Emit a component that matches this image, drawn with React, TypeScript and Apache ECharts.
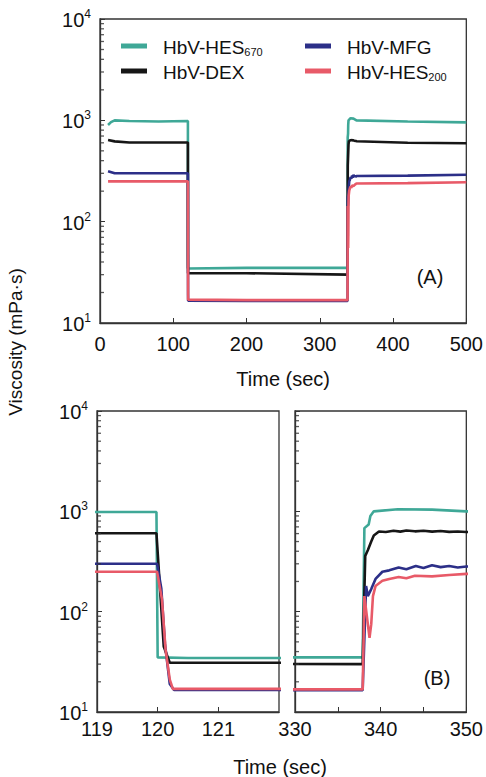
import React, { useEffect, useRef } from "react";
import * as echarts from "echarts";

// [time (sec), viscosity (mPa·s)]
const HES670 = [
  [11, 900], [15, 960], [20, 1000], [40, 985], [80, 975], [119.98, 985],
  [120.0, 35], [120.5, 34.5], [200, 35], [337.9, 35],
  [338.1, 680], [338.6, 740], [338.8, 900], [339.2, 1000], [342, 1050],
  [346, 1040], [350, 1000], [420, 975], [500, 955],
];
const DEX = [
  [11, 640], [20, 620], [40, 605], [119.98, 605],
  [120.1, 45], [120.2, 31], [200, 31], [337.9, 30],
  [338.2, 360], [338.5, 410], [338.9, 500], [339.2, 575], [339.8, 630],
  [340.6, 622], [341.5, 640], [342.3, 628], [343, 645], [344, 632],
  [345, 640], [346, 628], [347, 636], [348, 624], [349, 630], [350, 622],
  [420, 600], [500, 595],
];
const MFG = [
  [11, 315], [20, 300], [119.99, 300],
  [120.06, 170], [120.12, 48], [120.2, 19], [120.27, 16.6], [200, 16.5], [337.9, 16.5],
  [338.3, 180], [338.5, 143], [338.9, 168], [339.4, 212], [340.2, 250],
  [341, 258], [342.1, 275], [343, 265], [344.1, 285], [345, 272],
  [346, 290], [347, 278], [348, 285], [349, 276], [350, 282],
  [420, 285], [500, 290],
];
const HES200 = [
  [11, 250], [119.99, 250],
  [120.07, 134], [120.13, 42], [120.2, 21], [120.25, 17], [200, 16.8], [337.9, 16.8],
  [338.1, 143], [338.7, 55], [338.9, 75], [339.1, 143], [339.4, 180],
  [340.2, 203], [341, 212], [342.1, 222], [343, 215], [344, 228],
  [346, 225], [348, 232], [350, 238], [420, 240], [500, 245],
];

const SERIES_NAMES = ["HbV-HES670", "HbV-DEX", "HbV-MFG", "HbV-HES200"];
const SERIES_DATA = [HES670, DEX, MFG, HES200];
const SERIES_COLORS = ["#3fa897", "#161616", "#2c2f88", "#e85a68"];

const X_RANGES = [
  [0, 500, 100],
  [119, 122, 1],
  [330, 350, 5],
];
const Y_MIN = 10;
const Y_MAX = 10000;
const MINOR_TICKS = [
  20, 30, 40, 50, 60, 70, 80, 90,
  200, 300, 400, 500, 600, 700, 800, 900,
  2000, 3000, 4000, 5000, 6000, 7000, 8000, 9000,
];

const FONT = "'Liberation Sans', Arial, sans-serif";
const TXT = "#111";

export default function App() {
  const ref = useRef<HTMLDivElement>(null);
  useEffect(() => {
    const chart = echarts.init(ref.current!, null, { renderer: "svg" });
    const grids = [
      { left: 100, top: 19, width: 368, height: 304 },
      { left: 97, top: 411, width: 182, height: 301 },
      { left: 295, top: 411, width: 173, height: 301 },
    ].map((g) => ({
      ...g,
      show: true,
      borderColor: "#333",
      borderWidth: 1.3,
      backgroundColor: "transparent",
    }));

    const xAxis = X_RANGES.map(([min, max, interval], i) => ({
      type: "value",
      gridIndex: i,
      min,
      max,
      interval,
      axisLine: { show: true, lineStyle: { color: "#333", width: 1.3 } },
      axisTick: { show: true, inside: true, length: 5, lineStyle: { color: "#333" } },
      splitLine: { show: false },
      axisLabel: {
        color: TXT,
        fontSize: 20,
        fontFamily: FONT,
        margin: i === 0 ? 11 : 7,
        showMaxLabel: i !== 1,
        formatter: (v: number) => {
          if (i === 1 && v === 122) return "";
          if (i === 2 && v % 10 !== 0) return "";
          return String(v);
        },
      },
      name: i === 0 ? "Time (sec)" : "",
      nameLocation: "middle",
      nameGap: 46,
      nameTextStyle: { color: TXT, fontSize: 20, fontFamily: FONT },
    }));

    const yAxis = [0, 1, 2].map((i) => ({
      type: "log",
      logBase: 10,
      gridIndex: i,
      min: Y_MIN,
      max: Y_MAX,
      axisLine: { show: true, lineStyle: { color: "#333", width: 1.3 } },
      axisTick: { show: true, inside: true, length: 5, lineStyle: { color: "#333" } },
      splitLine: { show: false },
      axisLabel: {
        show: i !== 2,
        margin: 9,
        fontFamily: FONT,
        color: TXT,
        formatter: (v: number) => `{b|10}{s|${Math.round(Math.log10(v))}}`,
        rich: {
          b: { fontSize: 20, fontFamily: FONT, color: TXT, lineHeight: 22, verticalAlign: "bottom" },
          s: { fontSize: 12, fontFamily: FONT, color: TXT, lineHeight: 22, verticalAlign: "top", padding: [0, 0, 8, 0] },
        },
      },
    }));

    const series: any[] = [];
    for (let g = 0; g < 3; g++) {
      const xmin = X_RANGES[g][0];
      series.push({
        type: "scatter",
        name: "minor" + g,
        xAxisIndex: g,
        yAxisIndex: g,
        silent: true,
        clip: false,
        z: 10,
        symbol: "rect",
        symbolSize: [4, 1.3],
        symbolOffset: [2, 0],
        itemStyle: { color: "#333" },
        data: MINOR_TICKS.map((v) => [xmin, v]),
      });
      SERIES_NAMES.forEach((name, k) => {
        series.push({
          type: "line",
          name,
          xAxisIndex: g,
          yAxisIndex: g,
          data: SERIES_DATA[k],
          showSymbol: false,
          symbol: "none",
          clip: true,
          color: SERIES_COLORS[k],
          lineStyle: { width: 2.6, color: SERIES_COLORS[k] },
          z: 2 + k,
        });
      });
    }

    const legendText = {
      fontSize: 19,
      fontFamily: FONT,
      color: TXT,
      padding: [0, 0, 0, 11],
      rich: {
        n: { fontSize: 19, fontFamily: FONT, color: TXT, lineHeight: 22, verticalAlign: "bottom" },
        s: { fontSize: 11, fontFamily: FONT, color: TXT, lineHeight: 22, verticalAlign: "bottom", padding: [8, 0, 0, 0] },
      },
    };
    const legendFormatter = (name: string) => {
      const m = name.match(/^(HbV-HES)(\d+)$/);
      if (m) return `{n|${m[1]}}{s|${m[2]}}`;
      return `{n|${name}}`;
    };
    const legendCommon = {
      orient: "vertical",
      icon: "rect",
      itemWidth: 26,
      itemHeight: 5,
      itemGap: 6,
      selectedMode: false,
      formatter: legendFormatter,
      textStyle: legendText,
    };

    chart.setOption({
      animation: false,
      backgroundColor: "#fff",
      grid: grids,
      xAxis,
      yAxis,
      series,
      legend: [
        { ...legendCommon, left: 116, top: 33, data: ["HbV-HES670", "HbV-DEX"] },
        { ...legendCommon, left: 300, top: 33, data: ["HbV-MFG", "HbV-HES200"] },
      ],
      graphic: [
        {
          type: "text",
          x: 15,
          y: 342,
          rotation: Math.PI / 2,
          style: { text: "Viscosity (mPa·s)", fontSize: 19, fontFamily: FONT, fill: TXT, align: "center", verticalAlign: "middle" },
        },
        {
          type: "text",
          x: 280,
          y: 767,
          style: { text: "Time (sec)", fontSize: 20, fontFamily: FONT, fill: TXT, align: "center", verticalAlign: "middle" },
        },
        {
          type: "text",
          x: 430,
          y: 277,
          style: { text: "(A)", fontSize: 20, fontFamily: FONT, fill: TXT, align: "center", verticalAlign: "middle" },
        },
        {
          type: "text",
          x: 437,
          y: 678,
          style: { text: "(B)", fontSize: 20, fontFamily: FONT, fill: TXT, align: "center", verticalAlign: "middle" },
        },
      ],
    });
    return () => chart.dispose();
  }, []);
  return <div ref={ref} style={{ position: "fixed", left: 0, top: 0, width: 486, height: 777 }} />;
}
